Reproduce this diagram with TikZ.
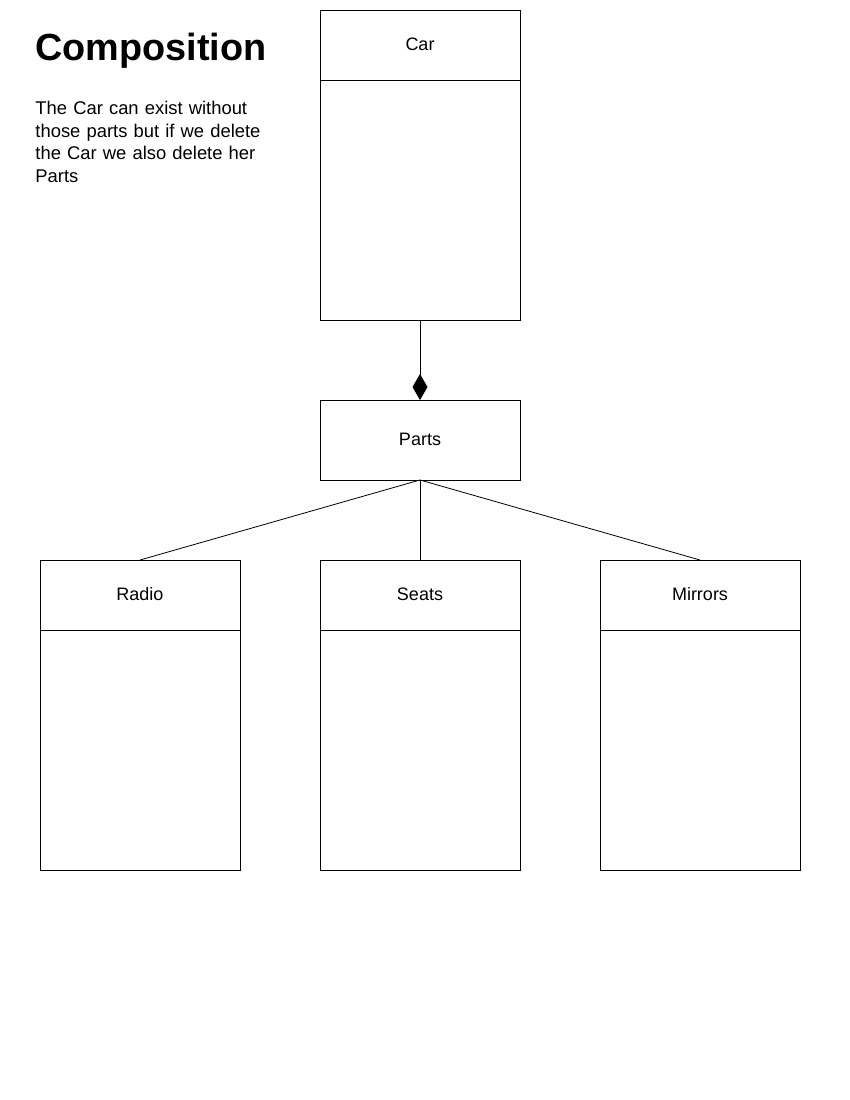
\documentclass[tikz,border=0pt]{standalone}
\usepackage{fontspec}
\setmainfont{Liberation Sans}
\usetikzlibrary{arrows.meta}
\begin{document}
\begin{tikzpicture}[x=1pt,y=-1pt,
  line width=0.9pt,
  classbox/.style={draw=black, fill=white, minimum width=200pt, inner sep=0pt, outer sep=0pt, anchor=north west},
  classname/.style={font=\fontsize{18}{22}\selectfont, inner sep=0pt},
  link/.style={draw=black, line width=0.8pt}
]
\useasboundingbox (0,0) rectangle (850,1100);

% heading and note
\node[anchor=base west, inner sep=0pt, font=\fontsize{37.8}{44}\selectfont\bfseries] (title) at (35,60) {Composition};
\node[anchor=north west, inner sep=0pt, align=left, text width=240pt,
      font=\fontsize{18.4}{22.6}\selectfont] (note) at (35,101)
  {The Car can exist without\\those parts but if we delete\\the Car we also delete her\\Parts};

% classes with a 70pt name compartment
\node[classbox, minimum height=310pt] (car) at (320,10) {};
\draw (car.north west) ++(0,70) -- ++(200,0);
\node[classname] (carname) at (420,44) {Car};

\node[classbox, minimum height=80pt] (parts) at (320,400) {};
\node[classname] (partsname) at (420,439) {Parts};

\node[classbox, minimum height=310pt] (radio) at (40,560) {};
\draw (radio.north west) ++(0,70) -- ++(200,0);
\node[classname] (radioname) at (140,594) {Radio};

\node[classbox, minimum height=310pt] (seats) at (320,560) {};
\draw (seats.north west) ++(0,70) -- ++(200,0);
\node[classname] (seatsname) at (420,594) {Seats};

\node[classbox, minimum height=310pt] (mirrors) at (600,560) {};
\draw (mirrors.north west) ++(0,70) -- ++(200,0);
\node[classname] (mirrorsname) at (700,594) {Mirrors};

% composition: filled diamond at the whole's end
\draw[link, {Diamond[length=26pt,width=15pt,fill=black]}-] (parts.north) -- (car.south);

% part links
\draw[link] (parts.south) -- (radio.north);
\draw[link] (parts.south) -- (seats.north);
\draw[link] (parts.south) -- (mirrors.north);
\end{tikzpicture}
\end{document}
